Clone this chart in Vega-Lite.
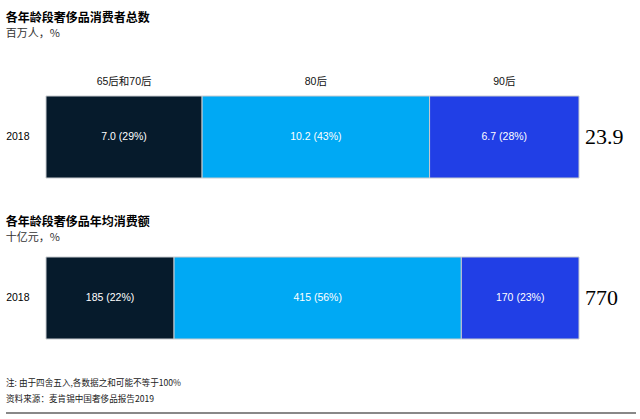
{
  "$schema": "https://vega.github.io/schema/vega-lite/v6.json",
  "background": "white",
  "padding": {"left": 5, "top": 12, "right": 4, "bottom": 3},
  "datasets": {
    "consumers": [
      {"year": "2018", "group": "65后和70后", "value": 7.0, "label": "7.0 (29%)"},
      {"year": "2018", "group": "80后", "value": 10.2, "label": "10.2 (43%)"},
      {"year": "2018", "group": "90后", "value": 6.7, "label": "6.7 (28%)"}
    ],
    "spend": [
      {"year": "2018", "group": "65后和70后", "value": 185, "label": "185 (22%)"},
      {"year": "2018", "group": "80后", "value": 415, "label": "415 (56%)"},
      {"year": "2018", "group": "90后", "value": 170, "label": "170 (23%)"}
    ],
    "notes": [
      {"row": 1, "text": "注: 由于四舍五入,各数据之和可能不等于100%"},
      {"row": 2, "text": "资料来源：麦肯锡中国奢侈品报告2019"}
    ]
  },
  "vconcat": [
    {
      "width": 533,
      "height": 82,
      "title": {
        "text": "各年龄段奢侈品消费者总数",
        "subtitle": "百万人，%",
        "anchor": "start",
        "frame": "bounds",
        "font": "Noto Sans CJK SC",
        "fontSize": 12,
        "fontWeight": "bold",
        "color": "#000000",
        "subtitleFont": "Noto Sans CJK SC",
        "subtitleFontSize": 11,
        "subtitleColor": "#333333",
        "subtitlePadding": 3,
        "offset": 37
      },
      "data": {"name": "consumers"},
      "transform": [
        {"stack": "value", "groupby": ["year"], "sort": [{"field": "group", "order": "ascending"}], "as": ["v0", "v1"]}
      ],
      "layer": [
        {
          "mark": {"type": "bar", "stroke": "#c8ccd0", "strokeWidth": 1},
          "encoding": {
            "x": {"field": "v0", "type": "quantitative", "scale": {"nice": false, "zero": true}, "axis": null},
            "x2": {"field": "v1"},
            "y": {"field": "year", "type": "nominal", "scale": {"paddingInner": 0, "paddingOuter": 0},
                  "axis": {"title": null, "domain": false, "ticks": false, "labelPadding": 17, "labelFont": "Liberation Sans", "labelFontSize": 10.5, "labelColor": "#000000"}},
            "color": {"field": "group", "type": "nominal",
                      "scale": {"domain": ["65后和70后", "80后", "90后"], "range": ["#061b2c", "#00a9f4", "#213fe6"]},
                      "legend": null}
          }
        },
        {
          "transform": [
            {"fold": ["v0", "v1"], "as": ["k", "pos"]},
            {"aggregate": [{"op": "mean", "field": "pos", "as": "mid"}], "groupby": ["year", "group", "label"]}
          ],
          "layer": [
            {
              "mark": {"type": "text", "color": "white", "font": "Liberation Sans", "fontSize": 10.5},
              "encoding": {
                "x": {"field": "mid", "type": "quantitative"},
                "y": {"field": "year", "type": "nominal"},
                "text": {"field": "label"}
              }
            },
            {
              "mark": {"type": "text", "color": "#111111", "font": "Liberation Sans, Noto Sans CJK SC", "fontSize": 10.5, "dy": -55},
              "encoding": {
                "x": {"field": "mid", "type": "quantitative"},
                "y": {"field": "year", "type": "nominal"},
                "text": {"field": "group"}
              }
            }
          ]
        },
        {
          "transform": [
            {"aggregate": [{"op": "sum", "field": "value", "as": "total"}], "groupby": ["year"]}
          ],
          "mark": {"type": "text", "align": "left", "dx": 6, "font": "Liberation Serif", "fontSize": 22, "color": "#000000"},
          "encoding": {
            "x": {"field": "total", "type": "quantitative"},
            "y": {"field": "year", "type": "nominal"},
            "text": {"field": "total", "type": "quantitative", "format": ".1f"}
          }
        }
      ]
    },
    {
      "width": 533,
      "height": 82,
      "title": {
        "text": "各年龄段奢侈品年均消费额",
        "subtitle": "十亿元，%",
        "anchor": "start",
        "frame": "bounds",
        "font": "Noto Sans CJK SC",
        "fontSize": 12,
        "fontWeight": "bold",
        "color": "#000000",
        "subtitleFont": "Noto Sans CJK SC",
        "subtitleFontSize": 11,
        "subtitleColor": "#333333",
        "subtitlePadding": 3,
        "offset": 13
      },
      "data": {"name": "spend"},
      "transform": [
        {"stack": "value", "groupby": ["year"], "sort": [{"field": "group", "order": "ascending"}], "as": ["v0", "v1"]}
      ],
      "layer": [
        {
          "mark": {"type": "bar", "stroke": "#c8ccd0", "strokeWidth": 1},
          "encoding": {
            "x": {"field": "v0", "type": "quantitative", "scale": {"nice": false, "zero": true}, "axis": null},
            "x2": {"field": "v1"},
            "y": {"field": "year", "type": "nominal", "scale": {"paddingInner": 0, "paddingOuter": 0},
                  "axis": {"title": null, "domain": false, "ticks": false, "labelPadding": 17, "labelFont": "Liberation Sans", "labelFontSize": 10.5, "labelColor": "#000000"}},
            "color": {"field": "group", "type": "nominal",
                      "scale": {"domain": ["65后和70后", "80后", "90后"], "range": ["#061b2c", "#00a9f4", "#213fe6"]},
                      "legend": null}
          }
        },
        {
          "transform": [
            {"fold": ["v0", "v1"], "as": ["k", "pos"]},
            {"aggregate": [{"op": "mean", "field": "pos", "as": "mid"}], "groupby": ["year", "group", "label"]}
          ],
          "mark": {"type": "text", "color": "white", "font": "Liberation Sans", "fontSize": 10.5},
          "encoding": {
            "x": {"field": "mid", "type": "quantitative"},
            "y": {"field": "year", "type": "nominal"},
            "text": {"field": "label"}
          }
        },
        {
          "transform": [
            {"aggregate": [{"op": "sum", "field": "value", "as": "total"}], "groupby": ["year"]}
          ],
          "mark": {"type": "text", "align": "left", "dx": 6, "font": "Liberation Serif", "fontSize": 22, "color": "#000000"},
          "encoding": {
            "x": {"field": "total", "type": "quantitative"},
            "y": {"field": "year", "type": "nominal"},
            "text": {"field": "total", "type": "quantitative", "format": "d"}
          }
        }
      ]
    },
    {
      "width": 590,
      "height": 37,
      "data": {"name": "notes"},
      "layer": [
        {
          "mark": {"type": "text", "align": "left", "dx": -40, "font": "Noto Sans CJK SC, Liberation Sans", "fontSize": 8.6, "color": "#222222"},
          "encoding": {
            "x": {"datum": 0, "type": "quantitative", "scale": {"domain": [0, 1]}, "axis": null},
            "y": {"field": "row", "type": "ordinal", "scale": {"type": "point", "padding": 0.65625, "align": 0.333}, "axis": null},
            "text": {"field": "text"}
          }
        },
        {
          "mark": {"type": "rule", "color": "#808080", "strokeWidth": 1.5, "xOffset": -40},
          "encoding": {
            "x": {"datum": 0, "type": "quantitative"},
            "x2": {"datum": 1},
            "y": {"datum": 0, "type": "quantitative", "scale": {"domain": [0, 1]}, "axis": null}
          }
        }
      ],
      "resolve": {"scale": {"y": "independent"}}
    }
  ],
  "spacing": 36,
  "config": {"view": {"stroke": null}}
}
